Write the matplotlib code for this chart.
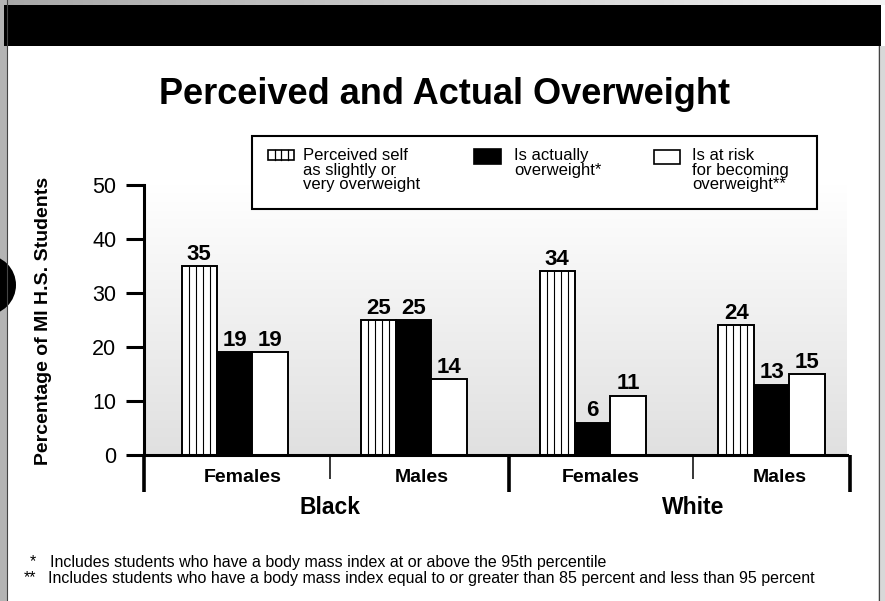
import numpy as np
import matplotlib
matplotlib.use("Agg")
import matplotlib.pyplot as plt
from matplotlib.patches import Rectangle, Circle
from matplotlib.colors import LinearSegmentedColormap

plt.rcParams['font.family'] = ['Liberation Sans', 'DejaVu Sans']

# data
groups = ['Females', 'Males', 'Females', 'Males']
races = ['Black', 'White']
perceived = [35, 25, 34, 24]
actual = [19, 25, 6, 13]
at_risk = [19, 14, 11, 15]
series_labels = ['Perceived self\nas slightly or\nvery overweight',
                 'Is actually\noverweight*',
                 'Is at risk\nfor becoming\noverweight**']
yticks = [0, 10, 20, 30, 40, 50]
footnotes = ['Includes students who have a body mass index at or above the 95th percentile',
             'Includes students who have a body mass index equal to or greater than 85 percent and less than 95 percent']

W, H = 885, 601
fig = plt.figure(figsize=(W / 100, H / 100), dpi=100)
fig.patch.set_facecolor('white')

# background decoration, pixel coords
back = fig.add_axes([0, 0, 1, 1], zorder=0)
back.axis('off')
back.add_patch(Rectangle((0, 0), 7, H, color='#b4b4b4', lw=0))
back.plot([7, 7], [0, H], color='#444444', lw=0.8)
back.add_patch(Rectangle((878, 46), 7, H, color='#d8d8d8', lw=0))
back.plot([878.5, 878.5], [46, H], color='#444444', lw=0.8)
grad_top = np.linspace(0, 1, 256).reshape(1, -1)
back.imshow(grad_top, cmap=LinearSegmentedColormap.from_list('g', ['#a8a8a8', '#f4f4f4']),
            extent=(0, W, 5, 0), aspect='auto')
back.add_patch(Rectangle((4, 5), 877, 41, color='black', lw=0))
back.add_patch(Circle((-14, 285), 30, color='black', lw=0))
back.set_xlim(0, W)
back.set_ylim(H, 0)

back.text(445, 95, 'Perceived and Actual Overweight', ha='center', va='center',
          fontsize=26, fontweight='bold')
back.text(44, 321, 'Percentage of MI H.S. Students', ha='center', va='center',
          rotation=90, fontsize=14, fontweight='bold')
back.text(36, 562, '*', ha='right', va='center', fontsize=11.5)
back.text(50, 562, footnotes[0], ha='left', va='center', fontsize=11.5)
back.text(36, 578, '**', ha='right', va='center', fontsize=11.5)
back.text(48, 578, footnotes[1], ha='left', va='center', fontsize=11.5)

# main chart
AX_L, AX_R, AX_B, AX_T = 144, 847, 455, 185
AX_H = AX_B - AX_T
ax = fig.add_axes([AX_L / W, 1 - AX_B / H, (AX_R - AX_L) / W, AX_H / H], zorder=2)
ax.set_xlim(-0.507, 3.421)
ax.set_ylim(0, 50)

cmap = LinearSegmentedColormap.from_list('bg', ['#e0e0e0', '#ffffff'])
ax.imshow(np.linspace(0, 1, 256).reshape(-1, 1), cmap=cmap, origin='lower',
          extent=(0, 1, 0, 1), transform=ax.transAxes, aspect='auto', zorder=0)

x = np.arange(len(groups))
bw = 0.198
n_stripes = 5
for vals, off, fc in [(perceived, -bw, 'white'), (actual, 0, 'black'), (at_risk, bw, 'white')]:
    ax.bar(x + off, vals, bw, color=fc, edgecolor='black', linewidth=1.4, zorder=3)
    for xi, v in zip(x + off, vals):
        ax.annotate(str(v), (xi, v), xytext=(0, 1), textcoords='offset points',
                    ha='center', va='bottom', fontsize=16, fontweight='bold', zorder=4)
# vertical stripes in the perceived bars
for xi, v in zip(x - bw, perceived):
    left = xi - bw / 2
    for k in range(1, n_stripes):
        ax.vlines(left + k * bw / n_stripes, 0, v, color='black', lw=0.8, zorder=3.5)

ax.set_yticks(yticks)
ax.set_xticks([])
ax.tick_params(axis='y', length=13, width=2.2, labelsize=15.5, pad=7)
for s in ['top', 'right']:
    ax.spines[s].set_visible(False)
for s in ['left', 'bottom']:
    ax.spines[s].set_linewidth(2.2)
    ax.spines[s].set_zorder(5)

# group dividers below the axis
xt = ax.get_xaxis_transform()
major_div = [-0.507, 1.53, 3.435]
minor_div = [0.53, 2.56]
for d in major_div:
    ax.plot([d, d], [0, -37 / AX_H], transform=xt, color='black', lw=2.6,
            clip_on=False, solid_capstyle='butt', zorder=5)
for d in minor_div:
    ax.plot([d, d], [0, -24 / AX_H], transform=xt, color='black', lw=1.1,
            clip_on=False, solid_capstyle='butt', zorder=5)
for xi, g in zip(x, groups):
    ax.text(xi + 0.045, -22 / AX_H, g, transform=xt, ha='center', va='center',
            fontsize=14, fontweight='bold')
for d, r in zip(minor_div, races):
    ax.text(d, -53 / AX_H, r, transform=xt, ha='center', va='center',
            fontsize=16.5, fontweight='bold')

# legend on top
front = fig.add_axes([0, 0, 1, 1], zorder=6)
front.set_xlim(0, W)
front.set_ylim(H, 0)
front.axis('off')
front.add_patch(Rectangle((252, 136), 565, 73, fc='white', ec='black', lw=1.5))
sw = [(268, 150, 26, 10), (474, 149, 27, 15), (654, 150, 26, 14)]
fcs = ['white', 'black', 'white']
tx = [303, 514, 692]
for (sx, sy, w, h), fc, t, lab in zip(sw, fcs, tx, series_labels):
    front.add_patch(Rectangle((sx, sy), w, h, fc=fc, ec='black', lw=1.2))
    front.text(t, 148, lab, ha='left', va='top', fontsize=12, linespacing=0.97)
sx, sy, w, h = sw[0]
for k in range(1, 4):
    front.plot([sx + k * w / 4] * 2, [sy, sy + h], color='black', lw=0.9)

fig.savefig('out.png', dpi=100)
